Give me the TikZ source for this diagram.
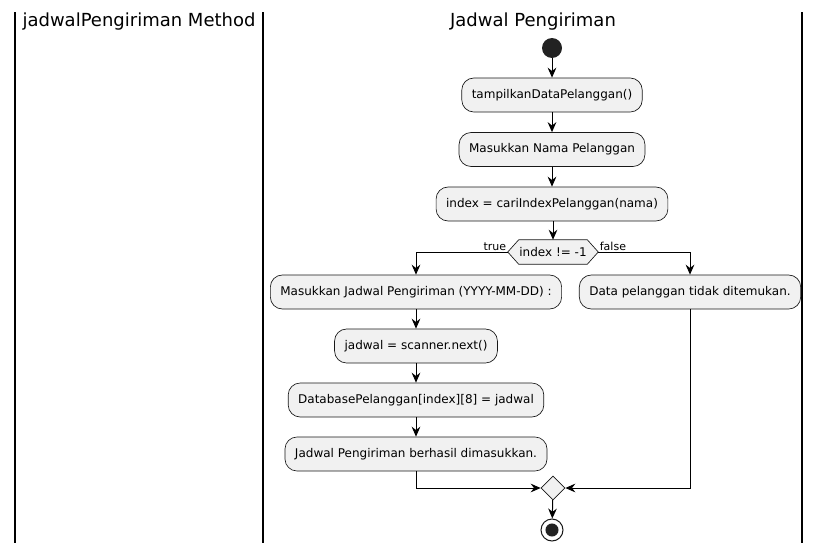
\documentclass[tikz,border=0pt]{standalone}
\usepackage{fontspec}
\setmainfont{DejaVu Sans}
\usetikzlibrary{positioning,arrows.meta,shapes.geometric,backgrounds,calc}
\definecolor{actbg}{HTML}{F1F1F1}
\definecolor{actline}{HTML}{181818}
\definecolor{dotfill}{HTML}{222222}

\begin{document}
\begin{tikzpicture}[x=0.75pt,y=-0.75pt,
  act/.style={draw=actline,line width=0.5pt,fill=actbg,rounded corners=9pt,minimum height=25.5pt,inner xsep=7.5pt,font=\fontsize{9}{11}\selectfont},
  cond/.style={minimum width=67.5pt,minimum height=18pt,inner sep=0pt,font=\fontsize{9}{11}\selectfont},
  merge/.style={diamond,draw=actline,line width=0.5pt,fill=actbg,minimum size=18pt,inner sep=0pt},
  lane/.style={line width=1.1pt},
  title/.style={font=\fontsize{13.5}{16}\selectfont},
  lbl/.style={font=\fontsize{8.25}{10}\selectfont,inner sep=1pt},
  arr/.style={-{Stealth[length=7.5pt,width=6.5pt,inset=2.5pt]},line width=0.75pt}]
\useasboundingbox (0,0) rectangle (821,553);
% swimlanes
\draw[lane] (15,12) -- (15,543);
\draw[lane] (263,12) -- (263,543);
\draw[lane] (802,12) -- (802,543);
\node[title] (lane1) at (139,22) {jadwalPengiriman Method};
\node[title] (lane2) at (533,22) {Jadwal Pengiriman};
% main flow
\node[circle,fill=dotfill,minimum size=15pt,inner sep=0pt] (start) at (552,48) {};
\node[act] (show) at (552,95) {tampilkanDataPelanggan()};
\node[act] (inname) at (552,149.5) {Masukkan Nama Pelanggan};
\node[act] (find) at (552,204) {index = cariIndexPelanggan(nama)};
\node[cond] (dec) at (553,252) {index != -1};
\begin{scope}[on background layer]
\draw[draw=actline,fill=actbg,line width=0.5pt] (dec.west) -- ($(dec.north west)+(11,0)$) -- ($(dec.north east)+(-11,0)$)
  -- (dec.east) -- ($(dec.south east)+(-11,0)$) -- ($(dec.south west)+(11,0)$) -- cycle;
\end{scope}
\node[lbl,anchor=south east] (tlbl) at (dec.west) {true};
\node[lbl,anchor=south west] (flbl) at (dec.east) {false};
\node[act] (injadwal) at (416,292) {Masukkan Jadwal Pengiriman (YYYY-MM-DD) :};
\node[act] (notfound) at (690,292) {Data pelanggan tidak ditemukan.};
\node[act] (scan) at (416,346) {jadwal = scanner.next()};
\node[act] (save) at (416,400) {DatabasePelanggan[index][8] = jadwal};
\node[act] (done) at (416,454) {Jadwal Pengiriman berhasil dimasukkan.};
\node[merge] (mrg) at (553,488) {};
\node[circle,draw=actline,line width=0.75pt,fill=white,minimum size=16.5pt,inner sep=0pt] (stop) at (552,530) {};
\fill[dotfill] (stop.center) circle (4.9pt);
% connectors
\draw[arr] (start) -- (show);
\draw[arr] (show) -- (inname);
\draw[arr] (inname) -- (find);
\draw[arr] (find.south -| dec.north) -- (dec.north);
\draw[arr] (dec.west) -| (injadwal);
\draw[arr] (dec.east) -| (notfound);
\draw[arr] (injadwal) -- (scan);
\draw[arr] (scan) -- (save);
\draw[arr] (save) -- (done);
\draw[arr] (done) |- (mrg);
\draw[arr] (notfound) |- (mrg);
\draw[arr] (mrg) -- (stop);
\end{tikzpicture}
\end{document}
